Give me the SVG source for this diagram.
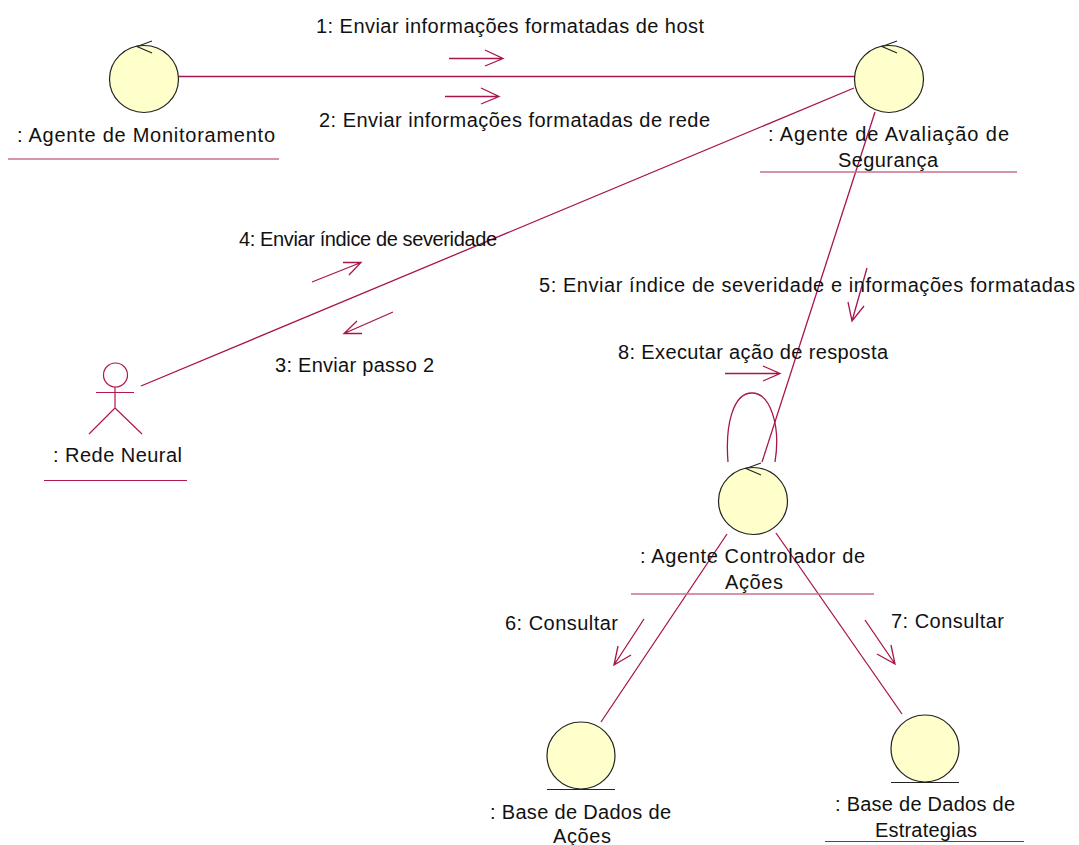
<svg xmlns="http://www.w3.org/2000/svg" width="1079" height="845" viewBox="0 0 1079 845">
<style>
text{font-family:"Liberation Sans",Arial,sans-serif;font-size:20px;fill:#111;text-anchor:start}
.c{fill:none;stroke:#a8144c;stroke-width:1.3}
.u{fill:none;stroke:#b0184f;stroke-width:1.2}
.p{fill:none;stroke:#c9708f;stroke-width:1.6}
.o{fill:#ffffcb;stroke:#222;stroke-width:1.2}
.k{fill:none;stroke:#222;stroke-width:1.1}
</style>
<rect width="1079" height="845" fill="#fff"/>
<g id="connectors">
<path class="c" d="M178 76.500H855"/>
<path class="c" d="M854 88L141 386"/>
<path class="c" d="M875 112L762 462"/>
<path class="c" d="M728 462C725 425 733 393 752 393C770 393 781 425 775 462"/>
<path class="c" d="M727 534L601 722"/>
<path class="c" d="M776 533L902 714"/>
<path class="c" d="M449 58.500H503M485 50L503 58.500L485 66"/>
<path class="c" d="M445 96.500H499M481 88L499 96.500L481 104"/>
<path class="c" d="M312 282L361 262.500M343 262.500H361L349 275"/>
<path class="c" d="M393 312L344 333.500M357 321L344 333.500H362"/>
<path class="c" d="M867 268L852 321M848 302L852 321L864 306"/>
<path class="c" d="M725 373.500H780M763 366L780 373.500L763 381"/>
<path class="c" d="M644 619L614 665M618 646L614 665L631 655"/>
<path class="c" d="M865 620L895 664M877 654L895 664L891 645"/>
</g>
<g id="agente-monitoramento">
<ellipse class="o" cx="144" cy="79" rx="34.500" ry="33.500"/>
<path class="k" d="M152 41L137 46.500L152 53"/>
<text x="17" y="142" textLength="258" lengthAdjust="spacing">: Agente de Monitoramento</text>
<path class="p" d="M8 159H279"/>
</g>
<g id="agente-avaliacao">
<ellipse class="o" cx="889" cy="79" rx="34.500" ry="33.500"/>
<path class="k" d="M897 41L882 46.500L897 53"/>
<text x="768" y="141" textLength="241" lengthAdjust="spacing">: Agente de Avaliação de</text>
<text x="838" y="167" textLength="100" lengthAdjust="spacing">Segurança</text>
<path class="p" d="M760 172H1017"/>
</g>
<g id="rede-neural">
<circle class="u" cx="115.500" cy="375" r="12"/>
<path class="u" d="M115 387V408M96 392.500H134M115 408L89 434M115 408L142 434"/>
<text x="53" y="462" textLength="129" lengthAdjust="spacing">: Rede Neural</text>
<path class="u" d="M44 480.500H187"/>
</g>
<g id="agente-controlador">
<ellipse class="o" cx="753" cy="501" rx="34.500" ry="33.500"/>
<path class="k" d="M761 463L746 468.500L761 475"/>
<text x="640" y="563" textLength="225" lengthAdjust="spacing">: Agente Controlador de</text>
<text x="725" y="589" textLength="58" lengthAdjust="spacing">Ações</text>
<path class="p" d="M631 594H874"/>
</g>
<g id="base-acoes">
<ellipse class="o" cx="581" cy="755.500" rx="34" ry="33.500"/>
<path class="k" d="M547 789.500H615"/>
<text x="490" y="819" textLength="181" lengthAdjust="spacing">: Base de Dados de</text>
<text x="553" y="843" textLength="58" lengthAdjust="spacing">Ações</text>
</g>
<g id="base-estrategias">
<ellipse class="o" cx="925" cy="748.500" rx="34" ry="33.500"/>
<path class="k" d="M891 782.500H959"/>
<text x="835" y="811" textLength="180" lengthAdjust="spacing">: Base de Dados de</text>
<text x="875" y="837" textLength="102" lengthAdjust="spacing">Estrategias</text>
<path class="u" d="M825 841.500H1024"/>
</g>
<g id="labels">
<text x="316" y="33" textLength="388" lengthAdjust="spacing">1: Enviar informações formatadas de host</text>
<text x="319" y="127" textLength="391" lengthAdjust="spacing">2: Enviar informações formatadas de rede</text>
<text x="239" y="246" textLength="258" lengthAdjust="spacing">4: Enviar índice de severidade</text>
<text x="275" y="372" textLength="159" lengthAdjust="spacing">3: Enviar passo 2</text>
<text x="539" y="292" textLength="536" lengthAdjust="spacing">5: Enviar índice de severidade e informações formatadas</text>
<text x="618" y="359" textLength="270" lengthAdjust="spacing">8: Executar ação de resposta</text>
<text x="505" y="630" textLength="113" lengthAdjust="spacing">6: Consultar</text>
<text x="891" y="628" textLength="113" lengthAdjust="spacing">7: Consultar</text>
</g>
</svg>
